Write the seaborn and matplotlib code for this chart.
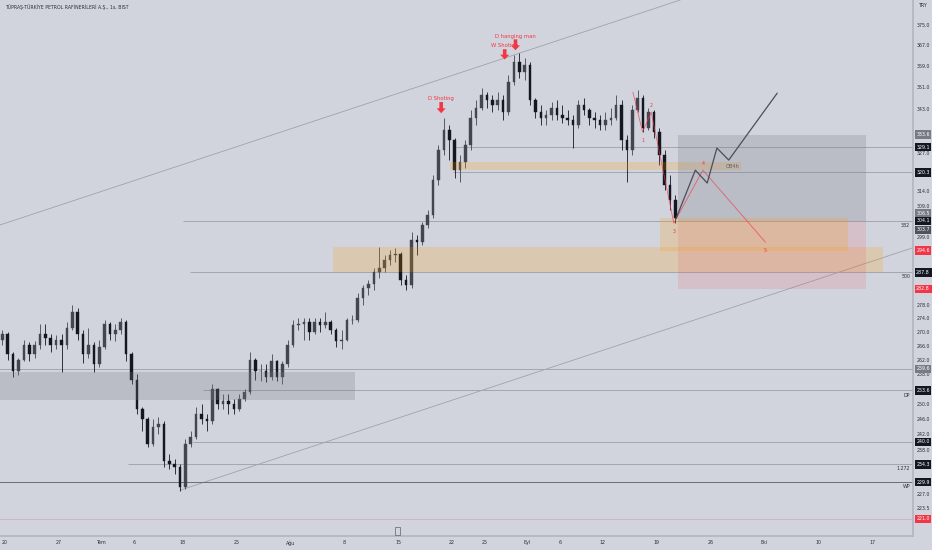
import matplotlib
matplotlib.use("Agg")
import matplotlib.pyplot as plt
import matplotlib.patches as mpatches
from matplotlib.ticker import NullLocator
import seaborn as sns

# ---------------------------------------------------------------------------
# data: TUPRS 1h chart (Jun-Sep 2022), grouped into half-day candles
# x axis = trading days counted from 20 Jun
# ---------------------------------------------------------------------------
title = "TÜPRAŞ-TÜRKİYE PETROL RAFİNERİLERİ A.Ş., 1s, BIST"

first_open = 267.8
highs = [
    270.7, 269.9, 264.4, 262.7, 267.8, 267.0, 267.3, 272.2, 272.2, 269.3,
    269.0, 269.3, 273.0, 278.0, 277.1, 270.7, 271.3, 267.0, 267.8, 273.6,
    273.0, 272.2, 274.2, 273.6, 264.4, 258.0, 249.1, 246.4, 245.9, 246.4,
    245.4, 236.9, 235.6, 234.4, 240.7, 242.8, 249.1, 249.9, 247.2, 255.3,
    254.4, 252.6, 252.6, 251.2, 252.6, 253.9, 264.4, 262.7, 260.8, 260.8,
    263.6, 262.1, 261.6, 267.8, 273.6, 274.2, 274.2, 274.2, 274.2, 274.2,
    275.9, 273.6, 271.3, 270.7, 274.2, 275.0, 281.6, 284.0, 285.5, 289.2,
    295.8, 293.3, 294.8, 295.5, 294.2, 287.1, 300.5, 299.6, 303.8, 307.7,
    319.4, 329.9, 339.5, 337.0, 332.4, 326.4, 331.6, 342.4, 346.1, 350.6,
    349.1, 348.0, 349.1, 348.0, 355.5, 363.1, 363.9, 361.9, 360.4, 346.9,
    344.3, 342.4, 345.4, 346.1, 344.3, 342.4, 340.6, 346.1, 346.9, 343.2,
    341.7, 340.6, 341.7, 343.2, 348.0, 346.1, 333.4, 344.3, 349.8, 348.0,
    343.2, 342.4, 335.9, 328.1, 319.4, 312.7]
lows = [
    266.4, 262.1, 257.2, 257.9, 261.6, 261.6, 262.7, 265.0, 266.4, 264.4,
    265.0, 258.6, 265.0, 270.7, 267.8, 261.3, 262.7, 258.6, 260.0, 265.0,
    267.8, 267.3, 269.3, 261.6, 255.3, 247.2, 242.8, 238.7, 238.9, 242.0,
    233.6, 233.1, 231.9, 227.7, 228.2, 238.7, 240.7, 244.6, 242.8, 244.6,
    248.5, 248.5, 247.2, 247.2, 248.0, 250.7, 252.6, 256.6, 256.1, 255.8,
    256.6, 256.1, 255.3, 260.0, 265.6, 270.7, 267.8, 267.8, 269.3, 269.9,
    271.3, 269.3, 265.6, 265.0, 267.3, 272.2, 273.0, 278.0, 281.0, 282.5,
    286.2, 288.0, 290.2, 291.1, 284.0, 282.5, 283.1, 293.3, 296.4, 301.8,
    305.1, 316.0, 326.4, 324.6, 318.4, 317.0, 321.8, 328.1, 337.0, 342.4,
    343.2, 341.7, 342.4, 338.8, 340.6, 351.7, 354.3, 353.6, 344.3, 339.5,
    337.0, 337.0, 338.8, 338.8, 337.7, 337.0, 328.8, 335.9, 340.6, 337.0,
    335.9, 335.2, 335.2, 337.0, 338.8, 328.1, 317.0, 326.4, 341.7, 334.5,
    335.2, 332.4, 322.9, 314.3, 307.7, 303.4]
closes = [
    269.3, 263.6, 258.9, 262.1, 266.4, 263.6, 266.4, 269.3, 268.4, 266.4,
    267.8, 266.4, 271.3, 275.9, 269.3, 263.6, 266.4, 260.8, 265.6, 272.2,
    269.3, 270.7, 273.0, 263.6, 256.6, 248.5, 245.9, 239.4, 243.8, 244.6,
    235.1, 234.4, 233.6, 228.7, 239.4, 241.2, 247.2, 245.9, 245.4, 253.9,
    249.9, 250.7, 249.9, 248.5, 251.2, 253.1, 262.1, 258.9, 258.9, 257.2,
    261.6, 257.2, 260.8, 266.4, 271.9, 272.4, 273.0, 270.1, 273.0, 271.9,
    273.0, 270.7, 267.3, 267.8, 273.6, 273.6, 280.1, 283.1, 284.3, 288.0,
    289.2, 291.7, 293.3, 293.6, 285.5, 284.0, 298.0, 297.3, 302.8, 306.1,
    317.7, 328.1, 335.2, 331.6, 321.1, 323.9, 329.9, 339.5, 343.2, 348.0,
    346.1, 344.3, 346.1, 341.7, 352.8, 360.4, 356.6, 359.3, 346.1, 341.7,
    339.5, 340.6, 343.2, 340.6, 339.5, 338.8, 337.0, 344.3, 342.4, 339.5,
    338.8, 337.0, 338.8, 339.5, 344.3, 331.6, 328.1, 342.4, 346.9, 335.9,
    341.7, 334.5, 326.4, 316.0, 311.0, 305.1]
opens = [first_open] + closes[:-1]
days = [0.5 * i - 0.25 for i in range(len(closes))]

tick_days = [0, 5, 9, 12, 16.5, 21.5, 26.5, 31.5, 36.5, 41.5, 44.5, 48.5,
             51.5, 55.5, 60.5, 65.5, 70.5, 75.5, 80.5]
tick_labels = ["20", "27", "Tem", "6", "18", "25", "Ağu", "8", "15", "22", "25",
               "Eyl", "6", "12", "19", "26", "Eki", "10", "17"]

price_ticks = [375.0, 367.0, 359.0, 351.0, 343.0, 327.0, 314.0, 309.0, 299.0,
               278.0, 274.0, 270.0, 266.0, 262.0, 258.0, 250.0, 246.0, 242.0,
               238.0, 227.0, 223.5]

# horizontal levels (price, first day)
level_prices = [329.1, 320.3, 304.1, 287.8, 259.6, 253.6, 240.0, 234.3, 229.9]
level_start = [41.8, 41.6, 16.5, 17.2, -1, 18.4, 17.5, 11.4, -1]
level_names = {304.1: "382", 287.8: "500", 253.6: "DP", 234.3: "1.272", 229.9: "WP"}

# price scale tags (price, kind)
tag_prices = [333.6, 329.1, 320.3, 306.5, 304.1, 303.7, 294.6, 287.8, 282.8,
              259.6, 253.6, 240.0, 234.3, 229.9, 221.0]
tag_kinds = ["grey", "dark", "dark", "grey", "dark", "mid", "red", "dark", "red",
             "grey", "dark", "dark", "dark", "dark", "red"]

# zones (day0, day1, low, high)
left_zone = (-1, 32.5, 250.9, 258.6)
demand_zone = (30.45, 81.5, 288.0, 295.8)
ob4h_zone = (41.3, 68.3, 321.1, 323.9)
order_zone = (60.8, 78.3, 294.6, 305.0)
pos_days = (62.5, 79.9)
pos_entry, pos_target, pos_stop = 304.1, 333.6, 282.8

# trend channel anchors
upper_days, upper_prices = [-0.46, 62.7], [302.8, 385.3]
lower_days, lower_prices = [16.25, 84.3], [227.9, 295.5]

# elliott count + projection
wave_days = [58.3, 59.2, 60.0, 62.1, 64.8, 70.6]
wave_prices = [349.1, 334.5, 341.7, 303.4, 321.1, 297.3]
wave_names = ["", "1", "2", "3", "4", "5"]
proj_days = [62.3, 64.1, 65.2, 66.1, 67.2, 71.7]
proj_prices = [304.8, 321.1, 316.7, 328.8, 324.6, 348.7]

# candle pattern notes: day, text price, arrow tail, arrow tip
notes = [("D Shoting", 40.5, 346.9, 345.4, 341.3),
         ("W Shoting", 46.4, 367.1, 365.5, 361.5),
         ("D hanging man", 47.4, 370.6, 369.4, 365.1)]

# ---------------------------------------------------------------------------
BG = "#d1d4dc"
RED = "#f23645"
sns.set_theme(style="white")
plt.rcParams["font.family"] = ["DejaVu Sans"]

fig = plt.figure(figsize=(9.32, 5.5), dpi=100, facecolor=BG)
ax = fig.add_axes([0, 14 / 550, 913 / 932, 536 / 550])
ax.set_facecolor(BG)
ax.set_yscale("log")
ax.set_xlim(-0.464, 84.31)
ax.set_ylim(217.0, 385.3)

# channel
ax.plot(upper_days, upper_prices, color="#a0a3ac", lw=0.6, zorder=1)
ax.plot(lower_days, lower_prices, color="#a0a3ac", lw=0.6, zorder=1)

# horizontal levels
for p, s in zip(level_prices, level_start):
    c = "#6a6d78" if p == 229.9 else "#a3a6af"
    ax.hlines(p, s, 84.31, color=c, lw=0.7, zorder=1)
    if p in level_names:
        ax.annotate(level_names[p], xy=(1.0, p), xycoords=ax.get_yaxis_transform(),
                    xytext=(-2, -1.5), textcoords="offset points", ha="right",
                    va="top", fontsize=3.4, color="#2a2e39")
ax.axhline(221.0, color=RED, lw=0.6, alpha=0.25, zorder=1)

# candles
up_c, dn_c = "#434651", "#131722"
cols = [up_c if c >= o else dn_c for o, c in zip(opens, closes)]
ax.vlines(days, lows, highs, colors=cols, lw=0.6, zorder=3)
ax.bar(days, [c - o for o, c in zip(opens, closes)], bottom=opens, width=0.24,
       color=cols, edgecolor=cols, linewidth=0.3, zorder=3)

# zones
def zone(z, color, alpha, zo=4):
    ax.add_patch(mpatches.Rectangle((z[0], z[2]), z[1] - z[0], z[3] - z[2],
                                    facecolor=color, alpha=alpha, lw=0, zorder=zo))

zone(left_zone, "#787b86", 0.25)
zone(demand_zone, "#ff9800", 0.2)
zone(ob4h_zone, "#ff9800", 0.2)
zone((pos_days[0], pos_days[1], pos_entry, pos_target), "#787b86", 0.25)
zone((pos_days[0], pos_days[1], pos_stop, pos_entry), RED, 0.12)
zone(order_zone, "#ff9800", 0.2)
ax.text(67.6, 322.2, "OB4h", fontsize=3.6, color="#5d606b", ha="center",
        va="center", zorder=6)

# wave count and projection
sns.lineplot(x=wave_days, y=wave_prices, sort=False, estimator=None, ax=ax,
             color=RED, lw=0.6, alpha=0.7, zorder=6)
sns.lineplot(x=proj_days, y=proj_prices, sort=False, estimator=None, ax=ax,
             color="#4a4e59", lw=0.9, zorder=6)
for k, (d, p, n) in enumerate(zip(wave_days, wave_prices, wave_names)):
    if not n:
        continue
    dy = -6 if k % 2 == 1 else 5
    ax.annotate(n, xy=(d, p), xytext=(0, dy), textcoords="offset points",
                ha="center", va="center", fontsize=3.4, color=RED, zorder=7)

# pattern notes
for txt, d, pt, tail, tip in notes:
    ax.text(d, pt, txt, fontsize=3.8, color=RED, ha="center", va="center", zorder=7)
    ax.annotate("", xy=(d, tip), xytext=(d, tail),
                arrowprops=dict(facecolor=RED, edgecolor="none", width=2.6,
                                headwidth=6.5, headlength=3.5, shrink=0), zorder=8)

# axes styling
for s in ["left", "top"]:
    ax.spines[s].set_visible(False)
ax.spines["bottom"].set_color("#b2b5be")
ax.spines["right"].set_color("#b2b5be")
ax.spines["bottom"].set_linewidth(1.2)
ax.spines["right"].set_linewidth(1.2)
ax.yaxis.tick_right()
ax.yaxis.set_minor_locator(NullLocator())
ax.set_yticks(price_ticks, labels=[f"{p:.1f}" for p in price_ticks])
ax.tick_params(axis="y", length=0, pad=3, labelsize=3.4, labelcolor="#2a2e39")
ax.set_xticks(tick_days, labels=tick_labels)
ax.tick_params(axis="x", length=0, pad=3, labelsize=3.4, labelcolor="#2a2e39")
ax.set_xlabel("")
ax.set_ylabel("")
ax.grid(False)

tag_fc = {"grey": "#787b86", "dark": "#131722", "mid": "#50535e", "red": RED}
for p, kind in zip(tag_prices, tag_kinds):
    off = -5.5 if p == 303.7 else 0
    ax.annotate(f"{p:.1f}", xy=(1.011, p), xycoords=ax.get_yaxis_transform(),
                xytext=(0, off), textcoords="offset points", ha="center",
                va="center", fontsize=3.4, color="white", annotation_clip=False,
                bbox=dict(boxstyle="square,pad=0.35", fc=tag_fc[kind], ec="none"),
                zorder=9)
ax.text(1.011, 383.1, "TRY", transform=ax.get_yaxis_transform(), ha="center",
        va="center", fontsize=3.4, color="#2a2e39", clip_on=False)

fig.text(5 / 932, 1 - 7 / 550, title, fontsize=3.3, color="#2a2e39",
         ha="left", va="center")
fig.patches.append(mpatches.Rectangle((395 / 932, 1 - 535 / 550), 5 / 932, 8 / 550,
                                      transform=fig.transFigure, fc=BG,
                                      ec="#5d606b", lw=0.5))

fig.savefig("out.png", dpi=100, facecolor=BG)
